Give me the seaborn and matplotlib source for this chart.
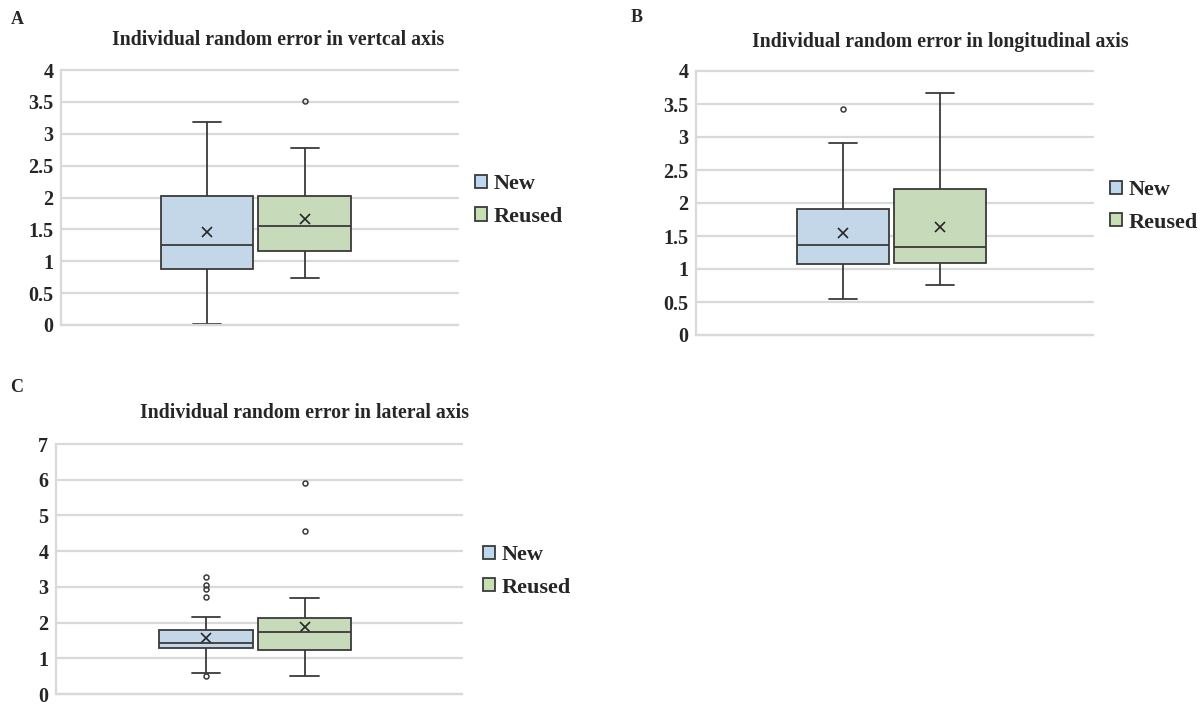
import numpy as np
import pandas as pd
import matplotlib
matplotlib.use("Agg")
import matplotlib.pyplot as plt
import matplotlib.patches as mpatches
import seaborn as sns

# ---------------- data ----------------
groups = ["New", "Reused"]
panel_letters = ["A", "B", "C"]
titles = ["Individual random error in vertcal axis",
          "Individual random error in longitudinal axis",
          "Individual random error in lateral axis"]

# box statistics per panel: [New, Reused]
vert_low = [0.01, 0.74]
vert_q1 = [0.88, 1.16]
vert_med = [1.26, 1.56]
vert_q3 = [2.03, 2.03]
vert_high = [3.18, 2.78]
vert_mean = [1.46, 1.66]
vert_fliers = [[], [3.52]]

long_low = [0.54, 0.76]
long_q1 = [1.08, 1.09]
long_med = [1.36, 1.34]
long_q3 = [1.91, 2.21]
long_high = [2.91, 3.66]
long_mean = [1.54, 1.64]
long_fliers = [[3.42], []]

lat_low = [0.60, 0.50]
lat_q1 = [1.29, 1.23]
lat_med = [1.44, 1.73]
lat_q3 = [1.80, 2.13]
lat_high = [2.17, 2.70]
lat_mean = [1.56, 1.87]
lat_fliers = [[0.50, 2.71, 2.93, 3.05, 3.29], [4.57, 5.90]]

ticks_4 = [0, 0.5, 1, 1.5, 2, 2.5, 3, 3.5, 4]
ticklabels_4 = ["0", "0.5", "1", "1.5", "2", "2.5", "3", "3.5", "4"]
ticks_7 = [0, 1, 2, 3, 4, 5, 6, 7]
ticklabels_7 = ["0", "1", "2", "3", "4", "5", "6", "7"]

fill_colors = ["#BDD7EE", "#C6E0B4"]
edge_color = "#3A3A3A"
grid_color = "#D9D9D9"


def box_sample(lo, q1, med, q3, hi, fliers):
    """Sample whose linear percentiles / 1.5*IQR whiskers equal the given stats."""
    low_f = sorted(f for f in fliers if f < q1)
    high_f = sorted(f for f in fliers if f > q3)
    k = max(len(low_f), len(high_f)) + 1
    vals = list(low_f) + [lo]
    vals += [q1] * (k - len(vals) + 1)          # up to index k -> q1
    vals += [med] * k                            # index 2k -> med
    vals += [q3] * k                             # index 3k -> q3
    n_fill = 4 * k - len(high_f) - len(vals)
    vals += [q3] * n_fill
    vals += [hi] + high_f
    return vals


def make_frame(lows, q1s, meds, q3s, highs, fliers):
    rows = []
    for i, g in enumerate(groups):
        for v in box_sample(lows[i], q1s[i], meds[i], q3s[i], highs[i], fliers[i]):
            rows.append({"cat": "x", "group": g, "value": v})
    return pd.DataFrame(rows)


panels = [
    (make_frame(vert_low, vert_q1, vert_med, vert_q3, vert_high, vert_fliers), vert_mean, ticks_4, ticklabels_4),
    (make_frame(long_low, long_q1, long_med, long_q3, long_high, long_fliers), long_mean, ticks_4, ticklabels_4),
    (make_frame(lat_low, lat_q1, lat_med, lat_q3, lat_high, lat_fliers), lat_mean, ticks_7, ticklabels_7),
]

# ---------------- style ----------------
sns.set_style("white")
plt.rcParams["font.family"] = ["Liberation Serif", "DejaVu Serif"]
plt.rcParams["font.weight"] = "bold"

fig = plt.figure(figsize=(12.01, 7.08), dpi=100)

axes_rects = [
    [61 / 1201, 1 - 325 / 708, 397 / 1201, 255 / 708],
    [696 / 1201, 1 - 335 / 708, 397 / 1201, 264 / 708],
    [56 / 1201, 1 - 694 / 708, 406 / 1201, 250 / 708],
]
xlims = [(-0.80, 0.83), (-0.805, 0.83), (-0.81, 0.84)]
legend_anchor = [(0.992, 0.488), (0.992, 0.487), (1.003, 0.49)]
title_pos = [(278, 40), (940, 42), (304, 413)]
letter_pos = [(17, 20), (637, 18), (17, 387)]

for i, (df, means, ticks, ticklabels) in enumerate(panels):
    ax = fig.add_axes(axes_rects[i])
    sns.boxplot(
        data=df, x="cat", y="value", hue="group", hue_order=groups,
        palette=fill_colors, width=0.8, gap=0.05, whis=1.5,
        linecolor=edge_color, linewidth=1.3, fliersize=3.6,
        flierprops={"marker": "o", "markeredgecolor": edge_color,
                    "markeredgewidth": 1.1},
        capwidths=0.115, legend=False, ax=ax,
    )
    mean_df = pd.DataFrame({"cat": ["x"] * len(groups), "group": groups, "mean": means})
    sns.pointplot(
        data=mean_df, x="cat", y="mean", hue="group", hue_order=groups,
        palette=["#262626", "#262626"], dodge=0.4, markers="x",
        linestyles="none", errorbar=None, legend=False, ax=ax,
        markersize=7, markeredgewidth=1.2,
    )
    ax.set_ylim(ticks[0], ticks[-1])
    ax.set_xlim(*xlims[i])
    ax.set_yticks(ticks)
    ax.set_yticklabels(ticklabels, fontsize=14.5, fontweight="bold")
    ax.set_xticks([])
    ax.set_xlabel("")
    ax.set_ylabel("")
    ax.tick_params(axis="y", length=0, pad=5.5)
    ax.yaxis.grid(True, color=grid_color, linewidth=1.6)
    ax.set_axisbelow(True)
    for gl in ax.get_ygridlines():
        gl.set_clip_on(False)
    for s in ["top", "right"]:
        ax.spines[s].set_visible(False)
    ax.spines["left"].set_color(grid_color)
    ax.spines["left"].set_linewidth(1.6)
    ax.spines["bottom"].set_color(grid_color)
    ax.spines["bottom"].set_linewidth(1.6)

    handles = [mpatches.Patch(facecolor=c, edgecolor=edge_color, linewidth=1.3, label=g)
               for c, g in zip(fill_colors, groups)]
    ax.legend(handles=handles, loc="center left", bbox_to_anchor=legend_anchor[i],
              frameon=False, handlelength=0.55, handleheight=0.55,
              handletextpad=0.3, labelspacing=0.55,
              prop={"family": "Liberation Serif", "weight": "bold", "size": 16})

    tx, ty = title_pos[i]
    fig.text(tx / 1201, 1 - ty / 708, titles[i], ha="center", va="center",
             fontsize=14.2, fontweight="bold")
    lx, ly = letter_pos[i]
    fig.text(lx / 1201, 1 - ly / 708, panel_letters[i], ha="center", va="center",
             fontsize=13, fontweight="bold")

fig.savefig("out.png", dpi=100)
